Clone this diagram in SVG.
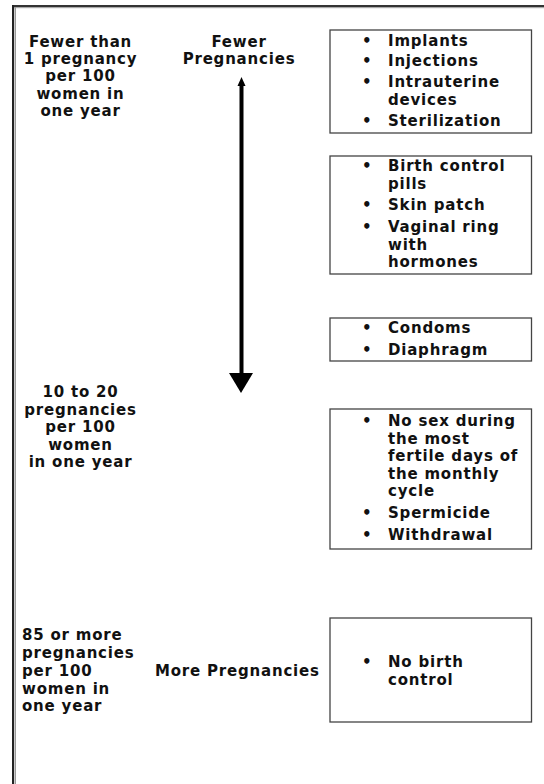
<svg xmlns="http://www.w3.org/2000/svg" width="544" height="784" viewBox="0 0 544 784">
<style>
text{font-family:"DejaVu Sans",Verdana,sans-serif;font-weight:bold;font-size:15px;letter-spacing:0.8px;fill:#111}
.c{text-anchor:middle}
.box{fill:#fff;stroke:#444;stroke-width:1.3}
</style>
<rect width="544" height="784" fill="#fff"/>
<g id="frame">
<rect x="12" y="5" width="532" height="2" fill="#333"/>
<rect x="14" y="7" width="530" height="1.2" fill="#aaa"/>
<rect x="12" y="5" width="2" height="779" fill="#222"/>
<rect x="14.5" y="7" width="1.5" height="777" fill="#999"/>
</g>
<g id="connectors">
<line x1="241.5" y1="84" x2="241.5" y2="375" stroke="#000" stroke-width="4"/>
<path d="M237.5,86 L241.5,77 L245.5,86 Z" fill="#000"/>
<path d="M229,373 L253,373 L241,393 Z" fill="#000"/>
</g>
<g id="label-fewer-than">
<text class="c" x="80.5" y="46.5">Fewer than</text>
<text class="c" x="80.5" y="63.5">1 pregnancy</text>
<text class="c" x="80.5" y="81">per 100</text>
<text class="c" x="80.5" y="98.5">women in</text>
<text class="c" x="80.5" y="116">one year</text>
</g>
<g id="label-fewer">
<text class="c" x="239" y="46.5">Fewer</text>
<text class="c" x="239" y="63.5">Pregnancies</text>
</g>
<g id="box1">
<rect class="box" x="330" y="30" width="201.5" height="103"/>
<text x="362" y="45.5">•</text><text x="388" y="45.5">Implants</text>
<text x="362" y="66">•</text><text x="388" y="66">Injections</text>
<text x="362" y="87">•</text><text x="388" y="87">Intrauterine</text>
<text x="388" y="104.5">devices</text>
<text x="362" y="126">•</text><text x="388" y="126">Sterilization</text>
</g>
<g id="box2">
<rect class="box" x="330" y="156" width="201.5" height="118"/>
<text x="362" y="171">•</text><text x="388" y="171">Birth control</text>
<text x="388" y="188.5">pills</text>
<text x="362" y="210">•</text><text x="388" y="210">Skin patch</text>
<text x="362" y="232">•</text><text x="388" y="232">Vaginal ring</text>
<text x="388" y="249.5">with</text>
<text x="388" y="267">hormones</text>
</g>
<g id="box3">
<rect class="box" x="330" y="318" width="201.5" height="43"/>
<text x="362" y="333">•</text><text x="388" y="333">Condoms</text>
<text x="362" y="354.5">•</text><text x="388" y="354.5">Diaphragm</text>
</g>
<g id="label-10-20">
<text class="c" x="80.5" y="397">10 to 20</text>
<text class="c" x="80.5" y="414.5">pregnancies</text>
<text class="c" x="80.5" y="432">per 100</text>
<text class="c" x="80.5" y="449.5">women</text>
<text class="c" x="80.5" y="467">in one year</text>
</g>
<g id="box4">
<rect class="box" x="330" y="409" width="201.5" height="140"/>
<text x="362" y="426">•</text><text x="388" y="426">No sex during</text>
<text x="388" y="443.5">the most</text>
<text x="388" y="461">fertile days of</text>
<text x="388" y="478.5">the monthly</text>
<text x="388" y="496">cycle</text>
<text x="362" y="518">•</text><text x="388" y="518">Spermicide</text>
<text x="362" y="540">•</text><text x="388" y="540">Withdrawal</text>
</g>
<g id="label-85">
<text x="22" y="640">85 or more</text>
<text x="22" y="658">pregnancies</text>
<text x="22" y="676">per 100</text>
<text x="22" y="693.5">women in</text>
<text x="22" y="711">one year</text>
</g>
<g id="label-more">
<text x="155" y="676">More Pregnancies</text>
</g>
<g id="box5">
<rect class="box" x="330" y="618" width="201.5" height="104"/>
<text x="362" y="667">•</text><text x="388" y="667">No birth</text>
<text x="388" y="685">control</text>
</g>
</svg>
